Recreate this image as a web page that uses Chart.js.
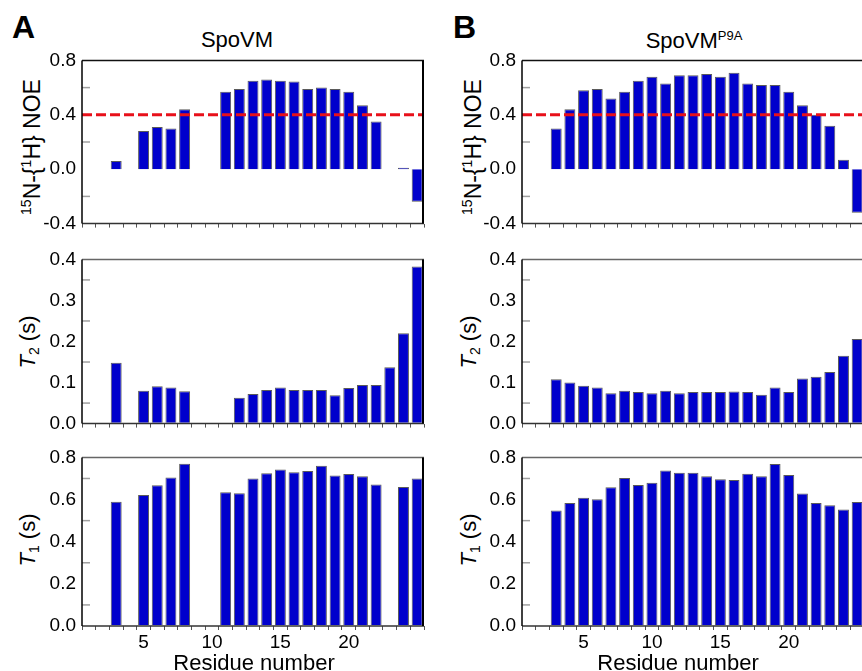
<!DOCTYPE html>
<html>
<head>
<meta charset="utf-8">
<title>SpoVM relaxation</title>
<script src="https://cdn.jsdelivr.net/npm/chart.js@4.4.1/dist/chart.umd.min.js"></script>
<style>
  html, body { margin: 0; padding: 0; background: #fff; overflow: hidden; }
  body { width: 862px; height: 671px; position: relative; font-family: "Liberation Sans", Arial, sans-serif; color: #000; }
  canvas { position: absolute; }
  .txt { position: absolute; white-space: nowrap; line-height: 1; }
  .letter { font-size: 32px; font-weight: bold; }
  .title { font-size: 22px; transform: translateX(-50%); }
  .title sup { font-size: 13px; vertical-align: 8px; }
  .ytitle { font-size: 22px; transform: translate(-50%, -50%) rotate(-90deg); }
  .ytitle.noe { font-size: 23px; }
  .ytitle sup { font-size: 14px; vertical-align: 9px; }
  .ytitle sub { font-size: 14px; vertical-align: -4px; }
  .xtitle { font-size: 22px; transform: translateX(-50%); }
</style>
</head>
<body>

<div class="txt letter" style="left:12px; top:11px;">A</div>
<div class="txt letter" style="left:453px; top:11px;">B</div>
<div class="txt title" style="left:237px; top:29px;">SpoVM</div>
<div class="txt title" style="left:694px; top:29px;">SpoVM<sup>P9A</sup></div>

<div class="txt ytitle noe" style="left:31px; top:147px;"><sup>15</sup>N-{<sup>1</sup>H} NOE</div>
<div class="txt ytitle" style="left:29px; top:342px;"><i>T</i><sub>2</sub> (s)</div>
<div class="txt ytitle" style="left:29px; top:540px;"><i>T</i><sub>1</sub> (s)</div>
<div class="txt ytitle noe" style="left:472px; top:147px;"><sup>15</sup>N-{<sup>1</sup>H} NOE</div>
<div class="txt ytitle" style="left:470px; top:342px;"><i>T</i><sub>2</sub> (s)</div>
<div class="txt ytitle" style="left:470px; top:540px;"><i>T</i><sub>1</sub> (s)</div>

<canvas id="noeA" width="426" height="198" style="left:0; top:43px;"></canvas>
<canvas id="t2A" width="426" height="199" style="left:0; top:242px;"></canvas>
<canvas id="t1A" width="426" height="222" style="left:0; top:440px;"></canvas>
<canvas id="noeB" width="426" height="198" style="left:440px; top:43px;"></canvas>
<canvas id="t2B" width="426" height="199" style="left:440px; top:242px;"></canvas>
<canvas id="t1B" width="426" height="222" style="left:440px; top:440px;"></canvas>

<div class="txt xtitle" style="left:254px; top:652px;">Residue number</div>
<div class="txt xtitle" style="left:678px; top:652px;">Residue number</div>

<script>
// residue numbers along the x axis, labelled every fifth
const residues = [1, 2, 3, 4, 5, 6, 7, 8, 9, 10, 11, 12, 13, 14, 15, 16, 17, 18, 19, 20, 21, 22, 23, 24, 25];
const labelledResidues = [5, 10, 15, 20];
const noeCutoff = 0.4;

// SpoVM (null = residue not measured)
const spoNoe = [null, null, 0.06, null, 0.28, 0.31, 0.30, 0.44, null, null, 0.57, 0.59, 0.65, 0.66, 0.65, 0.645, 0.59, 0.60, 0.59, 0.57, 0.47, 0.35, null, 0.01, -0.24];
const spoT2 = [null, null, 0.148, null, 0.080, 0.091, 0.088, 0.079, null, null, null, 0.063, 0.072, 0.082, 0.088, 0.082, 0.082, 0.082, 0.069, 0.087, 0.094, 0.094, 0.137, 0.220, 0.383];
const spoT1 = [null, null, 0.590, null, 0.621, 0.668, 0.705, 0.770, null, null, 0.635, 0.630, 0.700, 0.725, 0.742, 0.730, 0.736, 0.760, 0.714, 0.721, 0.710, 0.672, null, 0.660, 0.700];

// SpoVM P9A
const p9aNoe = [null, null, 0.30, 0.44, 0.58, 0.59, 0.52, 0.57, 0.65, 0.68, 0.63, 0.69, 0.69, 0.70, 0.68, 0.71, 0.63, 0.62, 0.62, 0.57, 0.47, 0.40, 0.32, 0.07, -0.32];
const p9aT2 = [null, null, 0.108, 0.100, 0.092, 0.088, 0.074, 0.080, 0.077, 0.074, 0.080, 0.074, 0.077, 0.077, 0.077, 0.078, 0.077, 0.070, 0.088, 0.077, 0.110, 0.114, 0.126, 0.165, 0.206];
const p9aT1 = [null, null, 0.548, 0.584, 0.609, 0.601, 0.658, 0.702, 0.669, 0.680, 0.738, 0.727, 0.727, 0.711, 0.696, 0.693, 0.722, 0.711, 0.769, 0.716, 0.629, 0.584, 0.573, 0.553, 0.588];

Chart.defaults.font.family = "'Liberation Sans', Arial, sans-serif";
Chart.defaults.color = '#000';

// frame, small inner minor ticks and the dashed NOE cutoff
const panelDecor = {
    id: 'panelDecor',
    afterDatasetsDraw(chart, args, opts) {
        const { ctx, chartArea: a } = chart;
        const y = chart.scales.y;
        ctx.save();
        if (opts.cutoff !== undefined) {
            const py = y.getPixelForValue(opts.cutoff);
            ctx.strokeStyle = '#e8101a';
            ctx.lineWidth = 3;
            ctx.setLineDash([10, 4]);
            ctx.beginPath();
            ctx.moveTo(a.left, py);
            ctx.lineTo(a.right, py);
            ctx.stroke();
            ctx.setLineDash([]);
        }
        ctx.strokeStyle = '#a0a0a0';
        ctx.lineWidth = 1.5;
        (opts.minor || []).forEach(v => {
            const py = y.getPixelForValue(v);
            ctx.beginPath();
            ctx.moveTo(a.left, py);
            ctx.lineTo(a.left + 8, py);
            ctx.stroke();
        });
        ctx.lineWidth = 1.5;
        ctx.strokeStyle = opts.topColor || '#444';
        ctx.beginPath();
        ctx.moveTo(a.left, a.top); ctx.lineTo(a.right, a.top);
        ctx.stroke();
        ctx.strokeStyle = '#333';
        ctx.beginPath();
        ctx.moveTo(a.left, a.bottom); ctx.lineTo(a.right, a.bottom);
        ctx.stroke();
        ctx.strokeStyle = '#000';
        ctx.beginPath();
        ctx.moveTo(a.left, a.top); ctx.lineTo(a.left, a.bottom);
        ctx.stroke();
        ctx.lineWidth = 2;
        ctx.beginPath();
        ctx.moveTo(a.right - 1, a.top); ctx.lineTo(a.right - 1, a.bottom);
        ctx.stroke();
        ctx.restore();
    }
};

function makePanel(id, values, yMin, yMax, yStep, minor, extra) {
    const showX = !!extra.showX;
    return new Chart(document.getElementById(id), {
        type: 'bar',
        data: {
            labels: residues,
            datasets: [{
                data: values,
                backgroundColor: '#0000cc',
                borderColor: '#5a5a5a',
                borderWidth: 1,
                barPercentage: 0.8,
                categoryPercentage: 1.0
            }]
        },
        options: {
            responsive: false,
            animation: false,
            layout: { padding: { top: 14, right: 2, left: 0, bottom: 0 } },
            plugins: {
                legend: { display: false },
                tooltip: { enabled: false },
                panelDecor: { minor: minor, cutoff: extra.cutoff, topColor: extra.topColor }
            },
            scales: {
                x: {
                    type: 'category',
                    offset: true,
                    border: { display: false },
                    grid: {
                        offset: true,
                        drawOnChartArea: false,
                        drawTicks: true,
                        tickLength: 4,
                        color: '#555',
                        lineWidth: 1
                    },
                    ticks: {
                        display: showX,
                        autoSkip: false,
                        maxRotation: 0,
                        padding: 1,
                        font: { size: 19 },
                        callback: (v, i) => labelledResidues.includes(residues[i]) ? residues[i] : ''
                    },
                    afterFit: s => { s.height = showX ? 36 : 12; }
                },
                y: {
                    min: yMin,
                    max: yMax,
                    border: { display: false },
                    grid: {
                        drawTicks: false,
                        lineWidth: 1.5,
                        color: c => (extra.zeroLine && c.tick && c.tick.value === 0) ? '#b4b4b4' : 'rgba(0,0,0,0)'
                    },
                    ticks: {
                        stepSize: yStep,
                        padding: 6,
                        font: { size: 19 },
                        callback: v => v.toFixed(1)
                    },
                    afterFit: s => { s.width = 82; }
                }
            }
        },
        plugins: [panelDecor]
    });
}

makePanel('noeA', spoNoe, -0.4, 0.8, 0.4, [-0.2, 0.2, 0.6], { cutoff: noeCutoff, zeroLine: true, topColor: '#111' });
makePanel('t2A', spoT2, 0, 0.4, 0.1, [0.05, 0.15, 0.25, 0.35], { topColor: '#666' });
makePanel('t1A', spoT1, 0, 0.8, 0.2, [0.1, 0.3, 0.5, 0.7], { showX: true, topColor: '#666' });
makePanel('noeB', p9aNoe, -0.4, 0.8, 0.4, [-0.2, 0.2, 0.6], { cutoff: noeCutoff, zeroLine: true, topColor: '#111' });
makePanel('t2B', p9aT2, 0, 0.4, 0.1, [0.05, 0.15, 0.25, 0.35], { topColor: '#666' });
makePanel('t1B', p9aT1, 0, 0.8, 0.2, [0.1, 0.3, 0.5, 0.7], { showX: true, topColor: '#666' });
</script>
</body>
</html>
